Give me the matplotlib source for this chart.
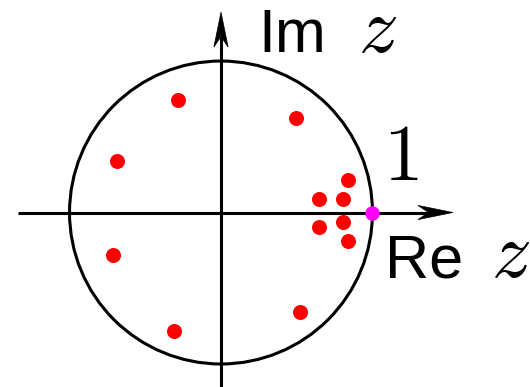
import numpy as np
import matplotlib
matplotlib.use("Agg")
import matplotlib.pyplot as plt
from matplotlib.patches import Circle, Polygon

plt.rcParams["mathtext.fontset"] = "cm"

# Zeros (complex plane), read as real / imaginary parts
zeros_re = [-0.282, 0.495, -0.684, 0.836, 0.649, 0.803, 0.803, 0.649, 0.836, -0.715, 0.521, -0.312]
zeros_im = [0.743, 0.622, 0.340, 0.215, 0.089, 0.089, -0.065, -0.098, -0.188, -0.283, -0.657, -0.780]
unit_point = (1.0, 0.0)

W, H, DPI = 530, 387, 100
fig = plt.figure(figsize=(W / DPI, H / DPI), dpi=DPI)
ax = fig.add_axes([0, 0, 1, 1])
ax.set_xlim(-1.459, 2.040)
ax.set_ylim(-1.152, 1.403)
ax.set_aspect("equal")
ax.axis("off")

lw = 2.2

def stealth(ax, tip, direction, length=0.231, half_w=0.047, notch=0.07):
    d = np.asarray(direction, float)
    d /= np.linalg.norm(d)
    n = np.array([-d[1], d[0]])
    tip = np.asarray(tip, float)
    back = tip - d * length
    pts = [tip, back + n * half_w, tip - d * (length - notch), back - n * half_w]
    ax.add_patch(Polygon(pts, closed=True, facecolor="black", edgecolor="black",
                         lw=0.5, zorder=3))
    return tip - d * (length - notch)

# axes with arrows
x_tip = (1.531, 0.0)
y_tip = (0.0, 1.323)
xe = stealth(ax, x_tip, (1, 0))
ye = stealth(ax, y_tip, (0, 1))
ax.plot([-1.340, xe[0]], [0, 0], color="black", lw=lw, solid_capstyle="butt", zorder=2)
ax.plot([0, 0], [-1.2, ye[1]], color="black", lw=lw, solid_capstyle="butt", zorder=2)

# unit circle
ax.add_patch(Circle((0, 0), 1.0, fill=False, edgecolor="black", lw=lw, zorder=2))

# zeros and the point z = 1
ax.plot(zeros_re, zeros_im, "o", color="#ff0000", markersize=10.8, markeredgewidth=0, zorder=4)
ax.plot([unit_point[0]], [unit_point[1]], "o", color="#ff00ff", markersize=10.5,
        markeredgewidth=0, zorder=5)

# labels
sans = "Liberation Sans"
ax.text(0.245, 1.059, "Im", fontsize=44, family=sans, ha="left", va="baseline")
ax.text(0.905, 1.059, r"$z$", fontsize=57, ha="left", va="baseline")
ax.text(1.07, 0.215, r"$1$", fontsize=57, ha="left", va="baseline")
ax.text(1.085, -0.426, "Re", fontsize=44, family=sans, ha="left", va="baseline")
ax.text(1.783, -0.426, r"$z$", fontsize=57, ha="left", va="baseline")

fig.savefig("out.png", dpi=DPI)
